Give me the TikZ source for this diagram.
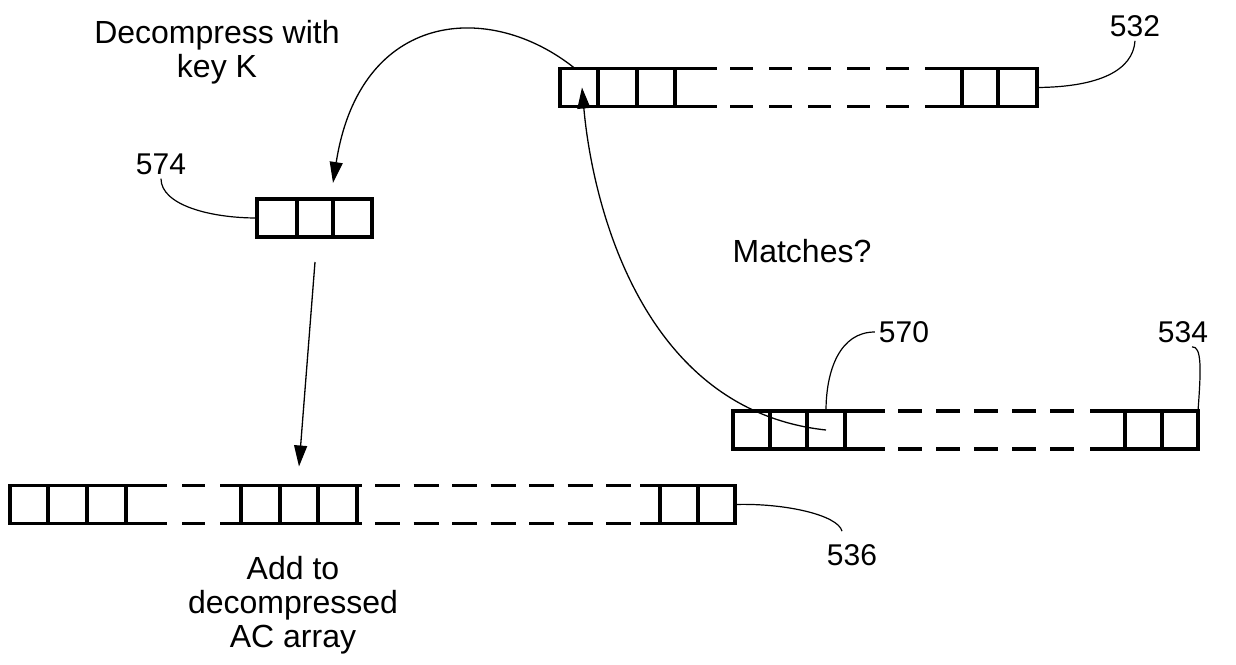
\documentclass[tikz,border=0pt]{standalone}
\usepackage{fontspec}
\setmainfont{Liberation Sans}
\usetikzlibrary{arrows.meta,calc}
\begin{document}
\begin{tikzpicture}[x=1pt,y=-1pt,
  cell/.style={draw,line width=3.2pt,minimum height=38pt,inner sep=0pt,outer sep=0pt},
  boxline/.style={line width=3.2pt},
  dashline/.style={line width=3.2pt,dash pattern=on 24pt off 14pt},
  leader/.style={line width=1.2pt},
  arrowline/.style={line width=1.3pt,-{Triangle[length=21pt,width=13pt]}},
  numlabel/.style={font=\fontsize{30}{30}\selectfont,inner sep=4pt},
  caption/.style={font=\fontsize{32}{34}\selectfont,align=center,inner sep=0pt}]
\useasboundingbox[fill=white] (0,0) rectangle (1236,664);

% ---- array 532 ----
\node[cell,minimum width=38pt] (p1) at (579,87.5) {};
\node[cell,minimum width=39pt] (p2) at (617.5,87.5) {};
\node[cell,minimum width=38pt] (p3) at (656,87.5) {};
\node[cell,minimum width=36pt] (p4) at (980,87.5) {};
\node[cell,minimum width=39pt] (p5) at (1017.5,87.5) {};
\draw[boxline] (675,68.5) -- (717,68.5) (675,106.5) -- (717,106.5);
\draw[dashline,dash pattern=on 23pt off 16pt] (730,68.5) -- (910,68.5) (730,106.5) -- (910,106.5);
\draw[boxline] (925,68.5) -- (962,68.5) (925,106.5) -- (962,106.5);

% ---- array 534 ----
\node[cell,minimum width=37pt] (r1) at (751.5,430) {};
\node[cell,minimum width=37pt] (r2) at (788.5,430) {};
\node[cell,minimum width=38pt] (r3) at (826,430) {};
\node[cell,minimum width=37pt] (r4) at (1143.5,430) {};
\node[cell,minimum width=36pt] (r5) at (1180,430) {};
\draw[boxline] (845,411) -- (885,411) (845,449) -- (885,449);
\draw[dashline] (898,411) -- (1078,411) (898,449) -- (1078,449);
\draw[boxline] (1090,411) -- (1125,411) (1090,449) -- (1125,449);

% ---- array 574 ----
\node[cell,minimum width=40pt] (q1) at (277,218) {};
\node[cell,minimum width=36pt] (q2) at (315,218) {};
\node[cell,minimum width=39pt] (q3) at (352.5,218) {};

% ---- array 536 ----
\node[cell,minimum width=38pt] (s1) at (29,504.5) {};
\node[cell,minimum width=39pt] (s2) at (67.5,504.5) {};
\node[cell,minimum width=39pt] (s3) at (106.5,504.5) {};
\node[cell,minimum width=39pt] (s4) at (260.5,504.5) {};
\node[cell,minimum width=38pt] (s5) at (299,504.5) {};
\node[cell,minimum width=39pt] (s6) at (337.5,504.5) {};
\node[cell,minimum width=38pt] (s7) at (679,504.5) {};
\node[cell,minimum width=37pt] (s8) at (716.5,504.5) {};
\draw[boxline] (126,485.5) -- (167,485.5) (126,523.5) -- (167,523.5);
\draw[boxline] (182,485.5) -- (205,485.5) (182,523.5) -- (205,523.5);
\draw[boxline] (220,485.5) -- (241,485.5) (220,523.5) -- (241,523.5);
\draw[boxline] (357,485.5) -- (362,485.5) (357,523.5) -- (362,523.5);
\draw[dashline,dash pattern=on 25pt off 13.5pt] (375,485.5) -- (632,485.5) (375,523.5) -- (632,523.5);
\draw[boxline] (640,485.5) -- (660,485.5) (640,523.5) -- (660,523.5);

% ---- labels ----
\node[numlabel] (l532) at (1135,26) {532};
\node[numlabel] (l534) at (1183,332) {534};
\node[numlabel] (l570) at (904,332) {570};
\node[numlabel] (l574) at (161,164) {574};
\node[numlabel] (l536) at (852,555) {536};

\node[caption,anchor=north] (tdec) at (217,20) {Decompress with\\key K};
\node[caption,anchor=base] (tmatch) at (802,262) {Matches?};
\node[caption,anchor=north] (tadd) at (293,556.5) {Add to\\decompressed\\AC array};

% ---- leaders ----
\draw[leader] (p5.east) .. controls (1100,87) and (1133,70) .. (l532.south);
\draw[leader] ([xshift=9pt]l534.south) .. controls (1202,346) and (1201,370) .. (r5.north east);
\draw[leader] (l570.west) .. controls (840,332) and (826,370) .. (r3.north);
\draw[leader] (l574.south) .. controls (161,205) and (210,218) .. (q1.west);
\coordinate (e536) at ([xshift=-10pt,yshift=9pt]l536.north);
\draw[leader] (s8.east) .. controls (785,503) and (838,515) .. (e536);

% ---- arrows ----
\coordinate (a1s) at ([xshift=-4pt]p1.north);
\coordinate (a1e) at ([yshift=16pt]q3.north west);
\draw[arrowline] (a1s) .. controls (490,0) and (360,10) .. (a1e);
\coordinate (a2e) at ([xshift=3pt]p1.center);
\draw[arrowline] (r3.center) .. controls (640,410) and (592,200) .. (a2e);
\coordinate (a3s) at ([yshift=-25pt]q2.south);
\coordinate (a3e) at ([yshift=19pt]s5.north);
\draw[arrowline] (a3s) -- (a3e);
\end{tikzpicture}
\end{document}
